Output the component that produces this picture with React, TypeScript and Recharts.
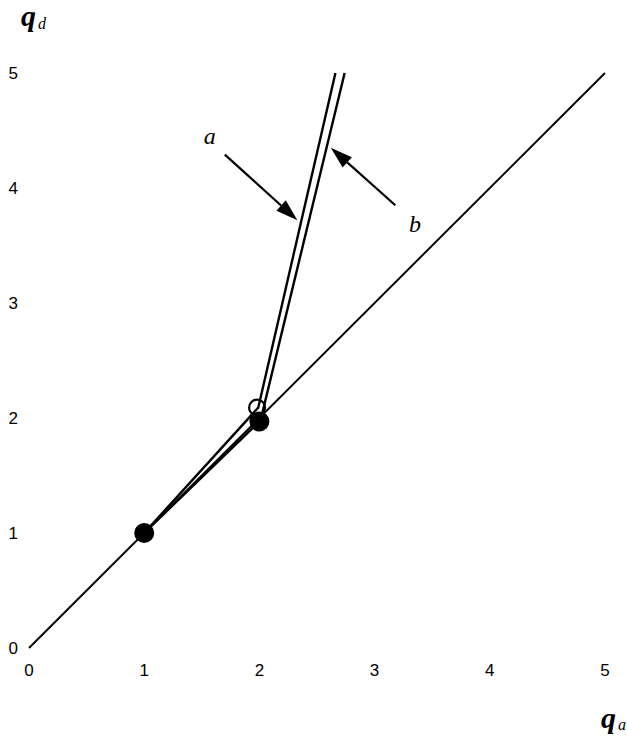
import {
  ComposedChart,
  Line,
  Scatter,
  XAxis,
  YAxis,
  ReferenceLine,
  Label,
} from 'recharts';

// axis ticks
const TICKS = [0, 1, 2, 3, 4, 5];

// q_d = q_a reference diagonal
const diagonal = [
  { qa: 0, qd: 0 },
  { qa: 5, qd: 5 },
];

// path a (passes the open point) and path b (passes the filled point)
const pathA = [
  { qa: 1, qd: 1 },
  { qa: 1.99, qd: 2.09 },
  { qa: 2.66, qd: 5 },
];
const pathB = [
  { qa: 1, qd: 1 },
  { qa: 2.01, qd: 1.98 },
  { qa: 2.74, qd: 5 },
];

const filledPoints = [
  { qa: 1, qd: 1 },
  { qa: 2, qd: 1.97 },
];
const openPoints = [{ qa: 1.98, qd: 2.09 }];

// annotation arrows: tail -> tip
const arrowA = [
  { x: 1.7, y: 4.29 },
  { x: 2.33, y: 3.72 },
];
const arrowB = [
  { x: 3.18, y: 3.85 },
  { x: 2.62, y: 4.35 },
];
const labelA = { x: 1.57, y: 4.45, text: 'a' };
const labelB = { x: 3.35, y: 3.69, text: 'b' };

const SERIF = '"Liberation Serif", "DejaVu Serif", serif';
const SANS = '"Liberation Sans", Arial, sans-serif';

function arrowShape(props: any) {
  const { x1, y1, x2, y2 } = props;
  const ang = Math.atan2(y2 - y1, x2 - x1);
  const len = 22;
  const half = 7;
  const bx = x2 - len * Math.cos(ang);
  const by = y2 - len * Math.sin(ang);
  const px = -Math.sin(ang) * half;
  const py = Math.cos(ang) * half;
  return (
    <g>
      <line x1={x1} y1={y1} x2={bx} y2={by} stroke="#000" strokeWidth={2.2} />
      <polygon
        points={`${x2},${y2} ${bx + px},${by + py} ${bx - px},${by - py}`}
        fill="#000"
      />
    </g>
  );
}

const FilledDot = (props: any) => (
  <circle cx={props.cx} cy={props.cy} r={10} fill="#000" />
);
const OpenDot = (props: any) => (
  <circle cx={props.cx} cy={props.cy} r={8} fill="none" stroke="#000" strokeWidth={2.2} />
);

function textMark(txt: string) {
  return (props: any) => (
    <text
      x={props.cx}
      y={props.cy}
      textAnchor="middle"
      dominantBaseline="central"
      fontFamily={SERIF}
      fontStyle="italic"
      fontSize={24}
      fill="#000"
    >
      {txt}
    </text>
  );
}

export default function App() {
  return (
    <div style={{ position: 'absolute', left: 0, top: 0, width: 627, height: 739, background: '#fff' }}>
      <ComposedChart
        width={627}
        height={739}
        margin={{ top: 73, right: 22, left: 0, bottom: 0 }}
      >
        <XAxis
          type="number"
          dataKey="qa"
          domain={[0, 5]}
          ticks={TICKS}
          axisLine={false}
          tickLine={false}
          tickSize={0}
          tickMargin={16}
          height={91}
          tick={{ fontSize: 17, fill: '#000', fontFamily: SANS }}
        >
          <Label
            content={(p: any) => {
              const vb = p.viewBox;
              return (
                <text x={vb.x + vb.width - 4} y={vb.y + 80} fontFamily={SERIF} fill="#000">
                  <tspan fontSize={30} fontWeight="bold" fontStyle="italic">q</tspan>
                  <tspan fontSize={16} fontStyle="italic" dx={2} dy={2}>a</tspan>
                </text>
              );
            }}
          />
        </XAxis>
        <YAxis
          type="number"
          dataKey="qd"
          domain={[0, 5]}
          ticks={TICKS}
          axisLine={false}
          tickLine={false}
          tickSize={0}
          tickMargin={11}
          width={29}
          tick={{ fontSize: 17, fill: '#000', fontFamily: SANS }}
        >
          <Label
            content={(p: any) => {
              const vb = p.viewBox;
              return (
                <text x={vb.x + 21} y={vb.y - 47} fontFamily={SERIF} fill="#000">
                  <tspan fontSize={30} fontWeight="bold" fontStyle="italic">q</tspan>
                  <tspan fontSize={16} fontStyle="italic" dx={2} dy={3}>d</tspan>
                </text>
              );
            }}
          />
        </YAxis>

        <Line data={diagonal} dataKey="qd" stroke="#000" strokeWidth={2} dot={false} isAnimationActive={false} />
        <Line data={pathA} dataKey="qd" stroke="#000" strokeWidth={2.4} dot={false} isAnimationActive={false} />
        <Line data={pathB} dataKey="qd" stroke="#000" strokeWidth={2.4} dot={false} isAnimationActive={false} />

        <ReferenceLine segment={arrowA} shape={arrowShape} ifOverflow="visible" />
        <ReferenceLine segment={arrowB} shape={arrowShape} ifOverflow="visible" />

        <Scatter data={filledPoints} dataKey="qd" shape={FilledDot} isAnimationActive={false} />
        <Scatter data={openPoints} dataKey="qd" shape={OpenDot} isAnimationActive={false} />
        <Scatter data={[{ qa: labelA.x, qd: labelA.y }]} dataKey="qd" shape={textMark(labelA.text)} isAnimationActive={false} />
        <Scatter data={[{ qa: labelB.x, qd: labelB.y }]} dataKey="qd" shape={textMark(labelB.text)} isAnimationActive={false} />
      </ComposedChart>
    </div>
  );
}
